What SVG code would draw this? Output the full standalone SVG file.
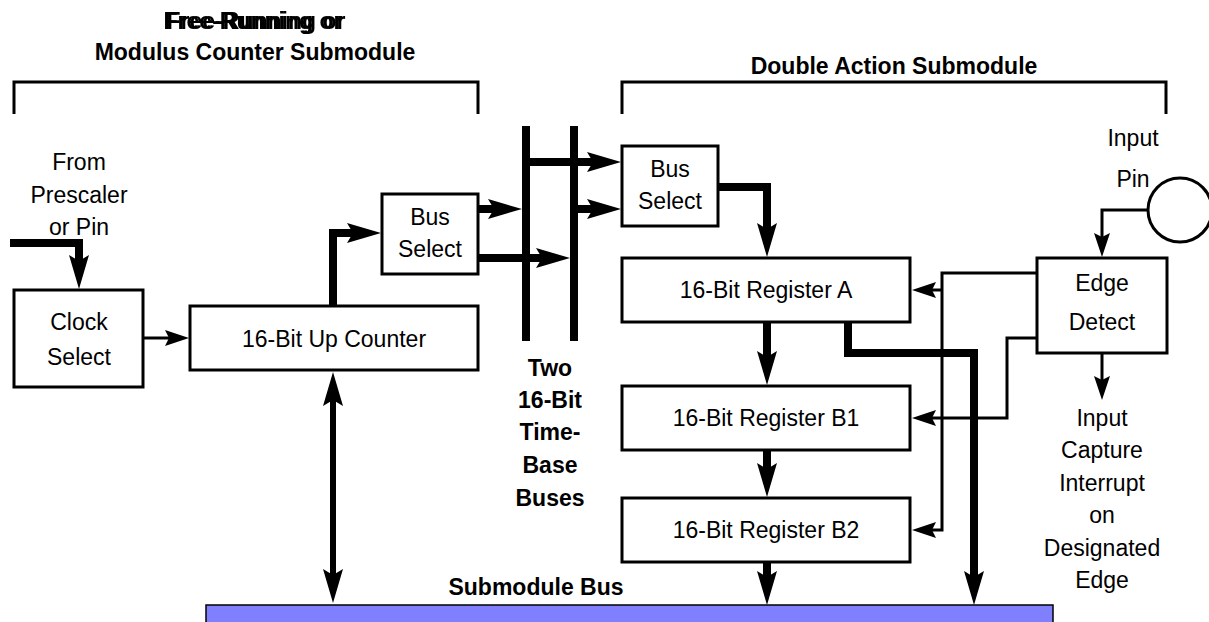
<svg xmlns="http://www.w3.org/2000/svg" width="1209" height="622" viewBox="0 0 1209 622">
<style>
text{font-family:"Liberation Sans",Arial,Helvetica,sans-serif;font-size:23px;fill:#000;text-anchor:middle}
.b{font-weight:bold}
.box{fill:#fff;stroke:#000;stroke-width:3}
.thick{fill:none;stroke:#000;stroke-width:8;stroke-linejoin:miter}
.med{fill:none;stroke:#000;stroke-width:6}
.thin{fill:none;stroke:#000;stroke-width:3;stroke-linejoin:miter}
.brk{fill:none;stroke:#000;stroke-width:3}
</style>
<defs>
<marker id="ahT" markerUnits="userSpaceOnUse" viewBox="0 -11 36 22" markerWidth="36" markerHeight="22" refX="6" refY="0" orient="auto"><path d="M34,0 L0,-10 L6,0 L0,10 Z" fill="#000"/></marker>
<marker id="ahT2" markerUnits="userSpaceOnUse" viewBox="0 -11 36 22" markerWidth="36" markerHeight="22" refX="6" refY="0" orient="auto-start-reverse"><path d="M34,0 L0,-10 L6,0 L0,10 Z" fill="#000"/></marker>
<marker id="ahS" markerUnits="userSpaceOnUse" viewBox="0 -9 26 18" markerWidth="26" markerHeight="18" refX="4" refY="0" orient="auto"><path d="M24,0 L0,-8 L4,0 L0,8 Z" fill="#000"/></marker>
<filter id="dbl" x="-5%" y="-20%" width="115%" height="140%"><feOffset in="SourceGraphic" dx="3" dy="0" result="o"/><feMerge><feMergeNode in="o"/><feMergeNode in="SourceGraphic"/></feMerge></filter>
</defs>
<rect width="1209" height="622" fill="#fff"/>

<g id="titles">
<text class="b" x="253" y="29" filter="url(#dbl)">Free-Running or</text>
<text class="b" x="255" y="60">Modulus Counter Submodule</text>
<path class="brk" d="M14,114 V82 H478 V114"/>
<text class="b" x="894" y="74">Double Action Submodule</text>
<path class="brk" d="M622,114 V82 H1166 V114"/>
</g>

<g id="labels">
<text x="79" y="170">From</text>
<text x="79" y="203">Prescaler</text>
<text x="79" y="235">or Pin</text>
<text class="b" x="550" y="376">Two</text>
<text class="b" x="550" y="408">16-Bit</text>
<text class="b" x="550" y="440">Time-</text>
<text class="b" x="550" y="473">Base</text>
<text class="b" x="550" y="506">Buses</text>
<text x="1133" y="146">Input</text>
<text x="1133" y="187">Pin</text>
<text x="1102" y="426">Input</text>
<text x="1102" y="458">Capture</text>
<text x="1102" y="491">Interrupt</text>
<text x="1102" y="523">on</text>
<text x="1102" y="556">Designated</text>
<text x="1102" y="588">Edge</text>
<text class="b" x="536" y="595">Submodule Bus</text>
</g>

<g id="submodule-bus">
<rect x="206" y="605" width="847" height="25" fill="#8080ff" stroke="#000" stroke-width="1.5"/>
</g>

<g id="clock-select">
<rect class="box" x="14" y="290" width="129" height="97"/>
<text x="79" y="330">Clock</text>
<text x="79" y="365">Select</text>
</g>

<g id="up-counter">
<rect class="box" x="190" y="306" width="288" height="64"/>
<text x="334" y="347">16-Bit Up Counter</text>
</g>

<g id="bus-select-left">
<rect class="box" x="382" y="194" width="96" height="80"/>
<text x="430" y="225">Bus</text>
<text x="430" y="257">Select</text>
</g>

<g id="bus-select-right">
<rect class="box" x="622" y="146" width="96" height="80"/>
<text x="670" y="177">Bus</text>
<text x="670" y="209">Select</text>
</g>

<g id="register-a">
<rect class="box" x="622" y="258" width="288" height="64"/>
<text x="766" y="298">16-Bit Register A</text>
</g>

<g id="register-b1">
<rect class="box" x="622" y="386" width="288" height="64"/>
<text x="766" y="426">16-Bit Register B1</text>
</g>

<g id="register-b2">
<rect class="box" x="622" y="498" width="288" height="64"/>
<text x="766" y="538">16-Bit Register B2</text>
</g>

<g id="edge-detect">
<rect class="box" x="1037" y="258" width="130" height="95"/>
<text x="1102" y="291">Edge</text>
<text x="1102" y="330">Detect</text>
</g>

<g id="input-pin">
<circle cx="1180" cy="210" r="32" fill="#fff" stroke="#000" stroke-width="3"/>
</g>

<g id="connectors">
<path class="thin" d="M143,338 H169" marker-end="url(#ahS)"/>
<path class="thin" d="M1148,210 H1102 V237" marker-end="url(#ahS)"/>
<path class="thin" d="M1037,273 H942 V530 H932" marker-end="url(#ahS)"/>
<path class="thin" d="M942,290 H932" marker-end="url(#ahS)"/>
<path class="thin" d="M1037,338 H1007 V418 H932" marker-end="url(#ahS)"/>
<path class="thin" d="M1102,353 V380" marker-end="url(#ahS)"/>
<line class="thick" x1="526" y1="126" x2="526" y2="341"/>
<line class="thick" x1="574" y1="126" x2="574" y2="341"/>
<path class="thick" d="M10,243 H79 V261" marker-end="url(#ahT)"/>
<path class="thick" d="M333,306 V233 H353" marker-end="url(#ahT)"/>
<path class="thick" d="M478,209 H494" marker-end="url(#ahT)"/>
<path class="thick" d="M478,258 H542" marker-end="url(#ahT)"/>
<path class="thick" d="M526,162 H593" marker-end="url(#ahT)"/>
<path class="thick" d="M574,209 H593" marker-end="url(#ahT)"/>
<path class="thick" d="M718,187 H767 V229" marker-end="url(#ahT)"/>
<path class="thick" d="M767,322 V357" marker-end="url(#ahT)"/>
<path class="thick" d="M767,450 V469" marker-end="url(#ahT)"/>
<path class="thick" d="M767,562 V577" marker-end="url(#ahT)"/>
<path class="thick" d="M848,322 V353 H974 V577" marker-end="url(#ahT)"/>
<path class="med" d="M333,400 V575" marker-start="url(#ahT2)" marker-end="url(#ahT2)"/>
</g>
</svg>
